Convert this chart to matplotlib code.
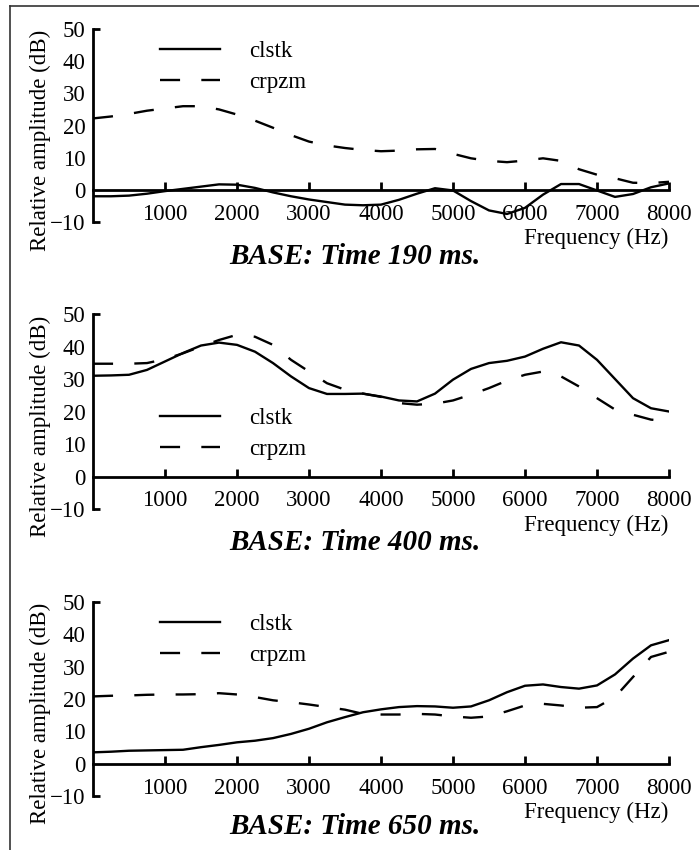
import matplotlib
matplotlib.use('Agg')
import matplotlib.pyplot as plt
from matplotlib.lines import Line2D
import numpy as np

plt.rcParams['font.family'] = ['Liberation Serif', 'DejaVu Serif']

# frequency grid (Hz), 250 Hz steps
freq = np.arange(0, 8001, 250)

# 190 ms
clstk_190 = [-2, -2, -1.8, -1.2, -0.4, 0.3, 1.0, 1.7, 1.6, 0.6, -0.8, -2.0, -3.0,
             -3.8, -4.6, -4.8, -4.6, -3.1, -1.2, 0.5, -0.2, -3.5, -6.4, -7.5, -5.6,
             -1.5, 1.8, 1.8, -0.2, -2.2, -1.3, 0.8, 2.0]
crpzm_190 = [22.2, 22.8, 23.6, 24.6, 25.3, 26.0, 26.0, 25.0, 23.4, 21.5, 19.3, 17.0, 15.0,
             13.8, 13.0, 12.4, 12.0, 12.2, 12.6, 12.7, 11.2, 9.8, 9.0, 8.6, 9.1,
             9.8, 9.0, 6.4, 4.7, 3.6, 2.2, 2.1, 2.5]

# 400 ms
clstk_400 = [31.0, 31.1, 31.3, 32.8, 35.4, 38.0, 40.3, 41.2, 40.5, 38.4, 34.9, 30.8, 27.2,
             25.4, 25.4, 25.5, 24.6, 23.4, 23.1, 25.5, 29.8, 33.1, 34.9, 35.6, 36.9,
             39.3, 41.3, 40.3, 35.9, 30.0, 24.1, 21.0, 20.0]
crpzm_400 = [34.7, 34.7, 34.7, 34.9, 36.1, 37.9, 40.0, 42.0, 43.6, 43.0, 40.5, 35.9, 32.3,
             28.7, 26.7, 25.5, 24.5, 22.6, 22.1, 22.4, 23.4, 25.2, 27.2, 29.5, 31.3,
             32.3, 30.8, 27.7, 24.1, 20.6, 19.0, 17.5, 17.0]

# 650 ms
clstk_650 = [3.5, 3.7, 4.0, 4.1, 4.2, 4.3, 5.1, 5.8, 6.6, 7.1, 7.9, 9.2, 10.8,
             12.8, 14.4, 15.9, 16.8, 17.5, 17.8, 17.7, 17.3, 17.7, 19.6, 22.1, 24.1,
             24.5, 23.7, 23.2, 24.2, 27.6, 32.5, 36.6, 38.2]
crpzm_650 = [20.8, 21.0, 21.1, 21.3, 21.4, 21.4, 21.5, 21.8, 21.4, 20.6, 19.6, 19.0, 18.3,
             17.5, 16.7, 15.4, 15.2, 15.2, 15.4, 15.2, 14.6, 14.2, 14.6, 16.2, 18.0,
             18.5, 18.0, 17.3, 17.5, 20.6, 26.8, 33.0, 34.6]

titles = ['BASE: Time 190 ms.', 'BASE: Time 400 ms.', 'BASE: Time 650 ms.']
series = [(clstk_190, crpzm_190), (clstk_400, crpzm_400), (clstk_650, crpzm_650)]
xticks = [1000, 2000, 3000, 4000, 5000, 6000, 7000, 8000]
yticks = [-10, 0, 10, 20, 30, 40, 50]

W, H = 699, 850
fig = plt.figure(figsize=(W / 100, H / 100), dpi=100)

# pixel layout: (axes top, axes bottom, legend centre, title y)
panels = [(29, 222, 67, 257), (314, 509, 434, 543), (602, 796, 640, 827)]
left_px, right_px = 93, 669
fs = 16.5
dash = (0, (8.5, 9))

for (top, bot, leg_y, title_y), (solid, dashed), title in zip(panels, series, titles):
    ax = fig.add_axes([left_px / W, 1 - bot / H, (right_px - left_px) / W, (bot - top) / H])
    ax.plot(freq, solid, color='black', lw=1.7, label='clstk')
    ax.plot(freq, dashed, color='black', lw=1.7, linestyle=dash, label='crpzm')
    ax.set_xlim(0, 8000)
    ax.set_ylim(-10, 50)
    for s in ['top', 'right']:
        ax.spines[s].set_visible(False)
    ax.spines['bottom'].set_position(('data', 0))
    ax.spines['bottom'].set_linewidth(2)
    ax.spines['left'].set_linewidth(2)
    ax.yaxis.remove_overlapping_locs = False
    ax.set_xticks(xticks)
    ax.set_yticks(yticks)
    ax.set_yticks([-10, 50], minor=True)
    ax.tick_params(axis='x', direction='in', length=6, width=2, pad=10, labelsize=fs)
    ax.tick_params(axis='y', which='major', length=0, pad=5.5, labelsize=fs)
    ax.tick_params(axis='y', which='minor', direction='in', length=5, width=2)
    ax.patch.set_visible(False)

    ax.text((40 - left_px) / (right_px - left_px), 0.425,
            'Relative amplitude (dB)', rotation=90, ha='center', va='center',
            fontsize=fs, transform=ax.transAxes)
    ax.text((596 - left_px) / (right_px - left_px), -0.085, 'Frequency (Hz)',
            ha='center', va='center', fontsize=fs, transform=ax.transAxes)
    fig.text(355 / W, 1 - title_y / H, title, ha='center', va='center',
             fontsize=fs + 4.5, fontweight='bold', fontstyle='italic')

    ax.legend(loc='center left', bbox_to_anchor=((160 - left_px) / (right_px - left_px),
                                                 (bot - leg_y) / (bot - top)),
              frameon=False, borderpad=0, borderaxespad=0, handlelength=2.6,
              handletextpad=1.3, labelspacing=0.4, fontsize=fs)

# outer frame lines (top and left)
fig.add_artist(Line2D([10 / W, 1], [1 - 5.5 / H, 1 - 5.5 / H], color='#333333', lw=1.2))
fig.add_artist(Line2D([10 / W, 10 / W], [0, 1 - 5.5 / H], color='#333333', lw=1.2))

fig.savefig('out.png', dpi=100)
